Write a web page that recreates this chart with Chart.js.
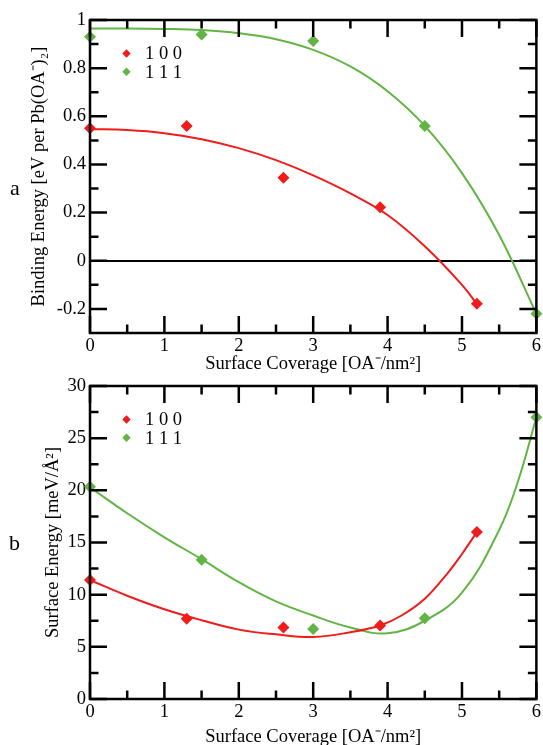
<!DOCTYPE html>
<html><head><meta charset="utf-8">
<script src="https://cdn.jsdelivr.net/npm/chart.js@4"></script>
<style>
html,body{margin:0;padding:0;background:#fff;overflow:hidden;width:543px;height:745px;position:relative}
.c{position:absolute;left:0;width:543px}
#wa{top:0;height:379px}
#wb{top:366px;height:386px}
.lab{position:absolute;font-family:"Liberation Serif",serif;font-size:22px;color:#000;line-height:22px}
</style></head><body>
<div class="c" id="wa"><canvas id="ca"></canvas></div>
<div class="c" id="wb"><canvas id="cb"></canvas></div>
<div class="lab" style="left:10px;top:177px">a</div>
<div class="lab" style="left:9px;top:532px">b</div>
<script>
// ---- data ----
const seriesNames = ['1 0 0', '1 1 1'];
const xTickLabels = [0, 1, 2, 3, 4, 5, 6];
const xMinorTicks = [0.5, 1.5, 2.5, 3.5, 4.5, 5.5];

// panel a: binding energy
const coverA100 = [0, 1.3, 2.6, 3.9, 5.2];
const bindA100  = [0.55, 0.56, 0.345, 0.222, -0.178];
const coverA111 = [0, 1.5, 3, 4.5, 6];
const bindA111  = [0.93, 0.94, 0.913, 0.56, -0.22];
const fitA100X = [0, 0.5, 1, 1.5, 2, 2.5, 3, 3.5, 4, 4.5, 5, 5.2];
const fitA100Y = [0.547, 0.543, 0.530, 0.505, 0.468, 0.418, 0.355, 0.280, 0.190, 0.060, -0.100, -0.180];
const fitA111X = [0, 0.5, 1, 1.5, 2, 2.5, 3, 3.5, 4, 4.5, 5, 5.5, 6];
const fitA111Y = [0.965, 0.965, 0.963, 0.958, 0.945, 0.920, 0.876, 0.807, 0.704, 0.560, 0.364, 0.107, -0.220];
const yTicksA = [-0.2, 0, 0.2, 0.4, 0.6, 0.8, 1];
const yMinorA = [-0.1, 0.1, 0.3, 0.5, 0.7, 0.9];

// panel b: surface energy
const coverB100 = [0, 1.3, 2.6, 3.9, 5.2];
const surfB100  = [11.4, 7.7, 6.85, 7.05, 16.0];
const coverB111 = [0, 1.5, 3, 4.5, 6];
const surfB111  = [20.35, 13.35, 6.7, 7.75, 27.0];
const fitB100X = [0, 0.5, 1, 1.5, 2, 2.5, 3, 3.5, 3.9, 4.2, 4.5, 4.8, 5.0, 5.2];
const fitB100Y = [11.4, 9.9, 8.6, 7.55, 6.65, 6.2, 5.95, 6.4, 7.05, 8.05, 9.6, 12.0, 13.9, 16.0];
const fitB111X = [0, 0.5, 1, 1.5, 2, 2.5, 3, 3.5, 4, 4.5, 5, 5.5, 5.75, 6];
const fitB111Y = [20.3, 17.8, 15.5, 13.4, 11.2, 9.35, 8.0, 6.85, 6.3, 7.5, 10.2, 16.2, 20.8, 27.0];
const yTicksB = [0, 5, 10, 15, 20, 25, 30];
const yMinorB = [2.5, 7.5, 12.5, 17.5, 22.5, 27.5];

// ---- style ----
const RED = '#f01c1c', GREEN = '#62b544';
const FONT = '"Liberation Serif", "Times New Roman", serif';
Chart.defaults.font.family = FONT;
Chart.defaults.color = '#000';

const pts = (xs, ys) => xs.map((v, i) => ({x: v, y: ys[i]}));

function framePlugin(yMaj, yMin) {
  return {
    id: 'frameTicks',
    afterDatasetsDraw(chart) {
      const {ctx, chartArea: a, scales: {x, y}} = chart;
      const L = 17, S = 8.5;
      ctx.save();
      ctx.strokeStyle = '#000';
      ctx.lineWidth = 2.5;
      ctx.beginPath();
      const vx = (v, len) => { const p = x.getPixelForValue(v);
        ctx.moveTo(p, a.bottom); ctx.lineTo(p, a.bottom - len);
        ctx.moveTo(p, a.top); ctx.lineTo(p, a.top + len); };
      const hy = (v, len) => { const p = y.getPixelForValue(v);
        ctx.moveTo(a.left, p); ctx.lineTo(a.left + len, p);
        ctx.moveTo(a.right, p); ctx.lineTo(a.right - len, p); };
      xTickLabels.forEach(v => vx(v, L));
      xMinorTicks.forEach(v => vx(v, S));
      yMaj.forEach(v => hy(v, L));
      yMin.forEach(v => hy(v, S));
      ctx.stroke();
      ctx.strokeRect(a.left, a.top, a.right - a.left, a.bottom - a.top);
      ctx.restore();
    }
  };
}

const legendPlugin = {
  id: 'legendIn',
  afterDatasetsDraw(chart) {
    const {ctx, chartArea: a} = chart;
    const cols = [RED, GREEN];
    ctx.save();
    ctx.font = '18.5px ' + FONT;
    ctx.textBaseline = 'middle';
    seriesNames.forEach((name, i) => {
      const cx = a.left + 36.5, cy = a.top + 33.5 + i * 18.3, r = 4.2;
      ctx.fillStyle = cols[i];
      ctx.beginPath();
      ctx.moveTo(cx, cy - r); ctx.lineTo(cx + r, cy); ctx.lineTo(cx, cy + r); ctx.lineTo(cx - r, cy);
      ctx.closePath(); ctx.fill();
      ctx.fillStyle = '#000';
      ctx.fillText(name, a.left + 55, cy + 1);
    });
    ctx.restore();
  }
};

function makeChart(id, cfg) {
  const ds = [
    {type: 'line', data: pts(cfg.f100x, cfg.f100y), borderColor: RED, borderWidth: 2, pointRadius: 0, tension: 0.4, fill: false, order: 3},
    {type: 'line', data: pts(cfg.f111x, cfg.f111y), borderColor: GREEN, borderWidth: 2, pointRadius: 0, tension: 0.4, fill: false, order: 3},
    {type: 'scatter', label: seriesNames[0], data: pts(cfg.x100, cfg.y100), pointStyle: 'rectRot', pointRadius: 6, backgroundColor: RED, borderWidth: 0, clip: false, order: 1},
    {type: 'scatter', label: seriesNames[1], data: pts(cfg.x111, cfg.y111), pointStyle: 'rectRot', pointRadius: 6, backgroundColor: GREEN, borderWidth: 0, clip: false, order: 1}
  ];
  return new Chart(document.getElementById(id), {
    type: 'scatter',
    data: {datasets: ds},
    options: {
      responsive: true, maintainAspectRatio: false, animation: false,
      events: [],
      layout: {padding: {top: 20, right: 4, bottom: 0, left: cfg.padLeft}},
      plugins: {legend: {display: false}, tooltip: {enabled: false}},
      scales: {
        x: {
          type: 'linear', min: 0, max: 6,
          afterBuildTicks: s => { s.ticks = xTickLabels.map(v => ({value: v})); },
          afterFit: s => { s.height = cfg.xH; },
          grid: {display: false, drawTicks: false},
          border: {display: false},
          ticks: {font: {size: 18.5}, color: '#000', padding: 2, maxRotation: 0, callback: v => String(v)},
          title: {display: true, text: 'Surface Coverage [OA\u207B/nm\u00B2]', font: {size: 18.5}, color: '#000', padding: {top: 0, bottom: 4}}
        },
        y: {
          type: 'linear', min: cfg.ymin, max: cfg.ymax,
          afterBuildTicks: s => { s.ticks = cfg.yt.map(v => ({value: v})); },
          afterFit: s => { s.width = 90 - cfg.padLeft; },
          grid: {display: cfg.zeroLine, drawTicks: false, lineWidth: 2,
                 color: c => (c.tick && c.tick.value === 0) ? '#000' : 'rgba(0,0,0,0)'},
          border: {display: false},
          ticks: {font: {size: 18.5}, color: '#000', padding: 4, callback: v => String(v)},
          title: {display: true, text: cfg.ytitle, font: {size: 18.5}, color: '#000', padding: {top: 4, bottom: 4}}
        }
      }
    },
    plugins: [framePlugin(cfg.yt, cfg.ym), legendPlugin]
  });
}

makeChart('ca', {
  f100x: fitA100X, f100y: fitA100Y, f111x: fitA111X, f111y: fitA111Y,
  x100: coverA100, y100: bindA100, x111: coverA111, y111: bindA111,
  ymin: -0.3, ymax: 1, yt: yTicksA, ym: yMinorA, zeroLine: true,
  ytitle: 'Binding Energy [eV per Pb(OA\u207B)\u2082]', padLeft: 24, xH: 46
});
makeChart('cb', {
  f100x: fitB100X, f100y: fitB100Y, f111x: fitB111X, f111y: fitB111Y,
  x100: coverB100, y100: surfB100, x111: coverB111, y111: surfB111,
  ymin: 0, ymax: 30, yt: yTicksB, ym: yMinorB, zeroLine: false,
  ytitle: 'Surface Energy [meV/\u00C5\u00B2]', padLeft: 38, xH: 53
});
</script>
</body></html>
